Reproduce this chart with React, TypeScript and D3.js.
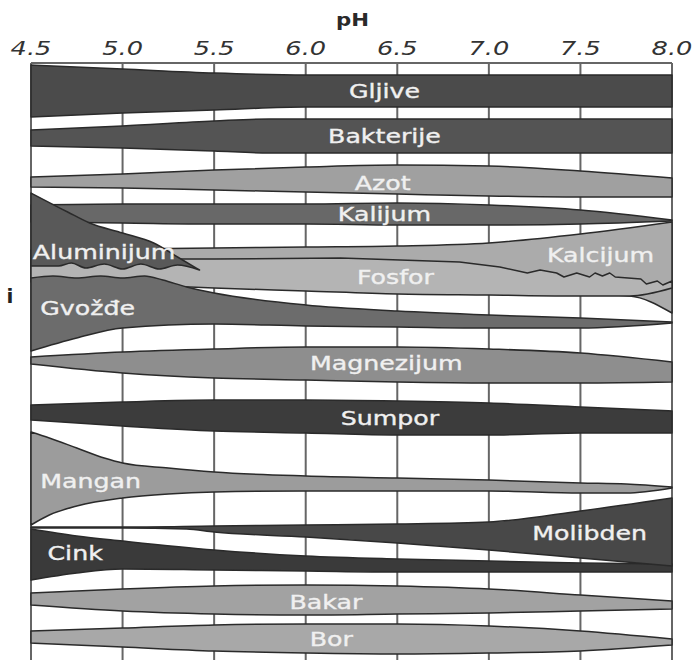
import * as d3 from "d3";

type Pt = [number, number]; // [pH, depth below the top of the chart]

const PH_TICKS = [4.5, 5.0, 5.5, 6.0, 6.5, 7.0, 7.5, 8.0];
const TICK_LABELS = ["4.5", "5.0", "5.5", "6.0", "6.5", "7.0", "7.5", "8.0"];

// band edges
const gljiveTop: Pt[] = [[4.5, 2], [5, 6], [5.5, 10], [6, 12], [7, 12], [8, 12]];
const gljiveBot: Pt[] = [[4.5, 54], [5, 50], [5.5, 47], [6, 44], [7, 44], [8, 44]];

const bakterijeTop: Pt[] = [[4.5, 67], [5, 63], [5.5, 58], [5.8, 56], [7, 56], [8, 56]];
const bakterijeBot: Pt[] = [[4.5, 83], [5, 85], [5.5, 88], [5.8, 90], [7, 90], [8, 90]];

const azotTop: Pt[] = [[4.5, 114], [5, 111], [5.5, 107], [6, 104], [6.5, 102], [7, 103], [7.5, 108], [8, 115]];
const azotBot: Pt[] = [[4.5, 124], [5, 125], [5.5, 127], [6, 129], [6.5, 131], [7, 133], [7.5, 134], [8, 134]];

const kalijumTop: Pt[] = [[4.5, 142], [5, 141], [5.5, 141], [6, 141], [6.5, 140], [7, 142], [7.5, 147], [8, 157]];
const kalijumBot: Pt[] = [[4.5, 159], [5, 160], [5.5, 161], [6, 161], [6.5, 162], [7, 162], [7.5, 161], [8, 158]];

const kalcijumTop: Pt[] = [[4.5, 187], [5, 186], [5.5, 185], [6, 184], [6.5, 183], [7, 180], [7.5, 171], [8, 159]];
const kalcijumBot: Pt[] = [[4.5, 215], [5.5, 220], [6.5, 228], [7.5, 231], [7.77, 233], [8, 250]];

const fosforTop: Pt[] = [
  [4.5, 196], [5.5, 196], [6.19, 195], [6.84, 199], [7.06, 204], [7.21, 210], [7.28, 207],
  [7.37, 210], [7.41, 214], [7.48, 210], [7.55, 214], [7.58, 210], [7.62, 213], [7.66, 210],
  [7.69, 214], [7.83, 216], [7.86, 221], [7.92, 218], [7.95, 222], [8, 218],
];
const fosforBot: Pt[] = [[4.5, 219], [5, 221], [5.25, 223], [5.5, 225], [6, 228], [6.5, 231], [7, 232], [7.5, 233], [7.77, 233], [8, 225]];

const gvozdjeTop: Pt[] = [
  [4.5, 215], [4.62, 213], [4.75, 215], [4.88, 213], [5, 215], [5.12, 213], [5.22, 217],
  [5.35, 224], [5.5, 230], [6, 242], [6.5, 248], [7, 252], [7.5, 255], [8, 259],
];
const gvozdjeBot: Pt[] = [[4.5, 288], [4.75, 275], [5, 265], [5.5, 261], [6, 263], [6.5, 264], [7, 265], [7.5, 265], [8, 260]];

const aluminijumTop: Pt[] = [[4.5, 130], [4.7, 149], [4.82, 160], [5, 170], [5.17, 180], [5.3, 194], [5.42, 207]];
const aluminijumBot: Pt[] = [
  [4.5, 203], [4.65, 203], [4.72, 200], [4.8, 205], [4.9, 201], [5, 206], [5.1, 201],
  [5.2, 206], [5.3, 202], [5.42, 207],
];

const magnezijumTop: Pt[] = [[4.5, 294], [5, 289], [5.5, 286], [6, 284], [6.5, 284], [7, 286], [7.5, 290], [8, 299]];
const magnezijumBot: Pt[] = [[4.5, 301], [5, 310], [5.5, 315], [6, 317], [6.5, 319], [7, 320], [7.5, 320], [8, 319]];

const sumporTop: Pt[] = [[4.5, 342], [5, 339], [5.5, 337], [6, 337], [6.5, 338], [7, 340], [7.5, 344], [8, 348]];
const sumporBot: Pt[] = [[4.5, 357], [5, 363], [5.5, 368], [6, 370], [6.5, 372], [7, 372], [7.5, 370], [8, 370]];

const manganTop: Pt[] = [[4.5, 369], [4.6, 375], [4.75, 385], [4.9, 395], [5, 400], [5.25, 405], [5.5, 409], [6, 413], [6.5, 415], [7, 417], [7.5, 420], [7.75, 421], [8, 424]];
const manganBot: Pt[] = [[4.5, 462], [4.6, 452], [4.75, 443], [5, 435], [5.25, 431], [5.5, 429], [6, 428], [6.5, 428], [7, 428], [7.5, 430], [7.75, 430], [8, 425]];

const cinkTop: Pt[] = [[4.5, 466], [4.75, 473], [5, 478], [5.5, 487], [6, 493], [6.5, 496], [7, 498], [7.5, 500], [8, 501]];
const cinkBot: Pt[] = [[4.5, 517], [4.75, 510], [5, 506], [5.5, 507], [6, 508], [6.5, 509], [7, 509], [7.5, 509], [8, 509]];

const molibdenTop: Pt[] = [[4.5, 464], [5, 464], [5.5, 463], [6, 462], [6.5, 461], [7, 459], [7.5, 448], [8, 435]];
const molibdenBot: Pt[] = [[4.5, 465], [5, 465], [5.35, 466], [5.5, 469], [6, 474], [6.5, 480], [7, 487], [7.5, 495], [8, 503]];

const bakarTop: Pt[] = [[4.5, 530], [5, 526], [5.5, 523], [6, 522], [6.5, 523], [7, 526], [7.5, 532], [8, 538]];
const bakarBot: Pt[] = [[4.5, 542], [5, 548], [5.5, 551], [6, 552], [6.5, 551], [7, 550], [7.5, 548], [8, 546]];

const borTop: Pt[] = [[4.5, 568], [5, 565], [5.5, 562], [6, 561], [6.5, 561], [7, 563], [7.5, 568], [8, 576]];
const borBot: Pt[] = [[4.5, 580], [5, 584], [5.5, 588], [6, 590], [6.5, 591], [7, 590], [7.5, 588], [8, 582]];

const W = 693;
const H = 660;
const x = d3.scaleLinear().domain([4.5, 8]).range([31, 672]);
const y = d3.scaleLinear().domain([0, 600]).range([63, 663]);

const smooth = d3.curveMonotoneX;
const sharp = d3.curveLinear;

const bands = [
  { name: "Gljive", top: gljiveTop, bot: gljiveBot, fill: "#4b4b4b" },
  { name: "Bakterije", top: bakterijeTop, bot: bakterijeBot, fill: "#545454" },
  { name: "Azot", top: azotTop, bot: azotBot, fill: "#a0a0a0" },
  { name: "Kalijum", top: kalijumTop, bot: kalijumBot, fill: "#686868" },
  { name: "Kalcijum", top: kalcijumTop, bot: kalcijumBot, fill: "#ababab" },
  { name: "Fosfor", top: fosforTop, bot: fosforBot, fill: "#b4b4b4", topCurve: sharp },
  { name: "Gvožđe", top: gvozdjeTop, bot: gvozdjeBot, fill: "#6c6c6c" },
  { name: "Aluminijum", top: aluminijumTop, bot: aluminijumBot, fill: "#595959" },
  { name: "Magnezijum", top: magnezijumTop, bot: magnezijumBot, fill: "#8e8e8e" },
  { name: "Sumpor", top: sumporTop, bot: sumporBot, fill: "#3c3c3c" },
  { name: "Mangan", top: manganTop, bot: manganBot, fill: "#9c9c9c" },
  { name: "Cink", top: cinkTop, bot: cinkBot, fill: "#3a3a3a" },
  { name: "Molibden", top: molibdenTop, bot: molibdenBot, fill: "#484848" },
  { name: "Bakar", top: bakarTop, bot: bakarBot, fill: "#a2a2a2" },
  { name: "Bor", top: borTop, bot: borBot, fill: "#a8a8a8" },
];

// where each label sits: [pH, depth of baseline, anchor]
const labelAt: Record<string, [number, number, string]> = {
  Gljive: [6.43, 35, "middle"],
  Bakterije: [6.43, 80, "middle"],
  Azot: [6.42, 127, "middle"],
  Kalijum: [6.43, 158, "middle"],
  Kalcijum: [7.61, 199, "middle"],
  Fosfor: [6.49, 221, "middle"],
  Gvožđe: [4.55, 252, "start"],
  Aluminijum: [4.51, 196, "start"],
  Magnezijum: [6.44, 307, "middle"],
  Sumpor: [6.46, 362, "middle"],
  Mangan: [4.55, 425, "start"],
  Cink: [4.59, 497, "start"],
  Molibden: [7.55, 477, "middle"],
  Bakar: [6.11, 546, "middle"],
  Bor: [6.14, 583, "middle"],
};

function bandPath(top: Pt[], bot: Pt[], topCurve: d3.CurveFactory, botCurve: d3.CurveFactory) {
  const t = d3.line<Pt>().x(d => x(d[0])).y(d => y(d[1])).curve(topCurve)(top) as string;
  const b = d3.line<Pt>().x(d => x(d[0])).y(d => y(d[1])).curve(botCurve)([...bot].reverse()) as string;
  return t + "L" + b.slice(1) + "Z";
}

const font = "'DejaVu Sans', Verdana, sans-serif";

export default function App() {
  return (
    <svg width={W} height={H} style={{ position: "absolute", left: 0, top: 0, background: "#fff" }}>
      {/* grid */}
      <line x1={x(4.5)} x2={x(8)} y1={y(0)} y2={y(0)} stroke="#666" strokeWidth={2} />
      {PH_TICKS.map(p => (
        <line key={p} x1={x(p)} x2={x(p)} y1={y(0)} y2={H} stroke="#666" strokeWidth={2} />
      ))}

      {bands.map(b => (
        <path
          key={b.name}
          d={bandPath(b.top, b.bot, b.topCurve || smooth, smooth)}
          fill={b.fill}
          stroke="#2a2a2a"
          strokeWidth={1.5}
          strokeLinejoin="round"
        />
      ))}

      {bands.map(b => {
        const [p, dpt, anchor] = labelAt[b.name];
        return (
          <text
            key={b.name}
            transform={`translate(${x(p)},${y(dpt)}) scale(1.33,1)`}
            textAnchor={anchor}
            fontFamily={font}
            fontSize={19}
            fill="#f0f0f0"
            stroke="#f0f0f0"
            strokeWidth={0.35}
          >
            {b.name}
          </text>
        );
      })}

      {/* axis */}
      <text transform={`translate(${(x(4.5) + x(8)) / 2 + 1},26) scale(1.25,1)`} textAnchor="middle"
        fontFamily={font} fontWeight="bold" fontSize={17} fill="#2a2a2a">pH</text>
      {PH_TICKS.map((p, i) => (
        <text key={p} transform={`translate(${x(p)},55) scale(1.35,1)`} textAnchor="middle"
          fontFamily={font} fontStyle="italic" fontSize={19} fill="#333">
          {TICK_LABELS[i]}
        </text>
      ))}

      <text x={10} y={303} textAnchor="middle" fontFamily={font} fontWeight="bold" fontSize={20} fill="#222">i</text>
    </svg>
  );
}
